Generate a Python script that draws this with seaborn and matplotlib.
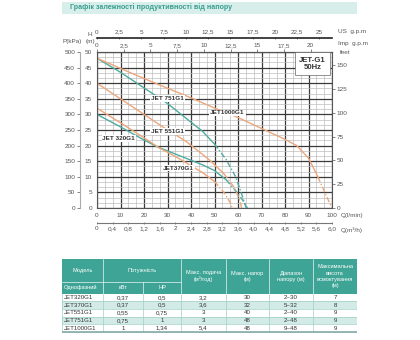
import matplotlib
matplotlib.use("Agg")
import matplotlib.pyplot as plt
import numpy as np
import seaborn as sns
from matplotlib.patches import Rectangle
from matplotlib.ticker import FixedLocator, FixedFormatter, MultipleLocator

sns.set_style("white")
plt.rcParams["font.family"] = ["Liberation Sans", "DejaVu Sans"]

W, H = 420, 340
TEAL = "#4eab9f"
ORANGE = "#eca67b"
HEAD_TEAL = "#3ea596"
ROW_TEAL = "#d3ebe7"
TXT = "#555555"

# pump curves: flow Q (l/min) vs head H (m); last index of the solid part
q_320 = [0, 10, 20, 26, 35, 45, 50, 55, 59, 62, 64]
h_320 = [30, 26, 21.8, 19.5, 16.8, 13.8, 12, 9, 5.5, 2.5, 0]
q_370 = [0, 10, 20, 26, 35, 45, 50, 54, 56.5, 57.5]
h_370 = [32, 27.3, 22.5, 19.5, 15.8, 11.3, 8.5, 5, 2, 0]
q_551 = [0, 10, 20, 28, 38, 48, 54, 58.5, 61, 61.5]
h_551 = [40, 35, 30, 26, 21.3, 15.3, 11, 6.5, 2, 0]
q_751 = [0, 10, 20, 30, 40, 45, 50, 55, 59, 62, 63.5]
h_751 = [48, 43.5, 38.5, 33.5, 27.5, 24.5, 20.5, 15.5, 10, 3.5, 0]
q_1000 = [0, 20, 40, 52, 60, 70, 80, 85, 90, 94, 97.5, 100]
h_1000 = [48, 41.5, 35.3, 31.4, 29, 25.5, 22, 20, 16, 10, 4, 0]

curves = [
    ("JET 320G1", q_320, h_320, 7, TEAL),
    ("JET370G1", q_370, h_370, 6, ORANGE),
    ("JET 551G1", q_551, h_551, 6, ORANGE),
    ("JET 751G1", q_751, h_751, 6, TEAL),
    ("JET1000G1", q_1000, h_1000, 9, ORANGE),
]
# label positions (Q, H)
label_pos = {
    "JET 320G1": (9.3, 22.2), "JET370G1": (34.7, 12.8), "JET 551G1": (30, 24.5),
    "JET 751G1": (30, 35), "JET1000G1": (55.5, 30.5),
}

usgpm_ticks = [0, 2.5, 5, 7.5, 10, 12.5, 15, 17.5, 20, 22.5, 25]
impgpm_ticks = [0, 2.5, 5, 7.5, 10, 12.5, 15, 17.5, 20]
m3h_ticks = [0, 0.4, 0.8, 1.2, 1.6, 2, 2.4, 2.8, 3.2, 3.6, 4.0, 4.4, 4.8, 5.2, 5.6, 6.0]
m3h_labels = ["0", "0,4", "0,8", "1,2", "1,6", "2", "2,4", "2,8", "3,2", "3,6",
              "4,0", "4,4", "4,8", "5,2", "5,6", "6,0"]
kpa_ticks = list(range(0, 501, 50))
feet_ticks = [0, 25, 50, 75, 100, 125, 150]

title = "Графік залежності продуктивності від напору"
col_heads = ["Модель", "Потужність", "Макс. подача\n(м³/год)", "Макс. напор\n(м)",
             "Діапазон\nнапору (м)", "Максимальна\nвисота\nвсмоктування\n(м)"]
sub_heads = ["Однофазний", "кВт", "HP"]
models = ["JET320G1", "JET370G1", "JET551G1", "JET751G1", "JET1000G1"]
kw = ["0,37", "0,37", "0,55", "0,75", "1"]
hp = ["0,5", "0,5", "0,75", "1", "1,34"]
max_flow = ["3,2", "3,6", "3", "3", "5,4"]
max_head = ["30", "32", "40", "48", "48"]
head_range = ["2~30", "5~32", "2~40", "2~48", "9~48"]
suction = ["7", "8", "9", "9", "9"]


def fx(x):
    return x / W


def fy(y):
    return 1 - y / H


def comma(v):
    return f"{v:g}".replace(".", ",")


fig = plt.figure(figsize=(W / 100, H / 100), dpi=100)

# title band
fig.patches.append(Rectangle((fx(62), fy(13.5)), 295 / W, 12 / H, transform=fig.transFigure,
                             fc="#d8eeea", ec="none"))
fig.text(fx(70), fy(7.5), title, color="#3a9e91", fontsize=5.1, fontweight="bold",
         va="center", ha="left")

ax = fig.add_axes([fx(97), fy(208), 235 / W, 156 / H])
ax.set_xlim(0, 100)
ax.set_ylim(0, 50)
ax.xaxis.set_major_locator(MultipleLocator(10))
ax.xaxis.set_minor_locator(MultipleLocator(10 / 3))
ax.yaxis.set_major_locator(MultipleLocator(5))
ax.yaxis.set_minor_locator(MultipleLocator(5 / 3))
ax.grid(which="major", color="#3a3a3a", lw=0.9)
ax.grid(which="minor", color="#bdbdbd", lw=0.5)
ax.set_axisbelow(True)
for s in ax.spines.values():
    s.set_color("#555")
    s.set_linewidth(0.8)
ax.tick_params(which="major", labelsize=4.6, colors=TXT, length=2, width=0.5, pad=1.5)
ax.tick_params(which="minor", length=0)

for name, q, h, k, col in curves:
    sns.lineplot(x=q[:k + 1], y=h[:k + 1], color=col, lw=1.0, ax=ax, sort=False)
    sns.lineplot(x=q[k:], y=h[k:], color=col, lw=1.0, ax=ax, sort=False,
                 linestyle=(0, (4, 1.5, 1, 1.5)))
    lx, ly = label_pos[name]
    ax.text(lx, ly, name, fontsize=4.6, fontweight="bold", color="#333", ha="center",
            va="center", bbox=dict(fc="white", ec="none", pad=0.6))

ax.text(91.7, 46.2, "JET-G1\n50Hz", fontsize=5.6, fontweight="bold", color="#333",
        ha="center", va="center", linespacing=1.1,
        bbox=dict(fc="white", ec="#666", lw=0.5, boxstyle="square,pad=0.55"))

# pressure axis (left)
pk = ax.secondary_yaxis(-17 / 235, functions=(lambda v: v * 10, lambda v: v / 10))
pk.yaxis.set_major_locator(FixedLocator(kpa_ticks))
pk.tick_params(labelsize=4.6, colors=TXT, length=2, width=0.5, pad=1.5)
pk.spines["left"].set_color("#aaa")

# feet axis (right)
ft = ax.secondary_yaxis("right", functions=(lambda v: v * 3.281, lambda v: v / 3.281))
ft.yaxis.set_major_locator(FixedLocator(feet_ticks))
ft.tick_params(labelsize=4.6, colors=TXT, length=2, width=0.5, pad=1.5)
ft.spines["right"].set_visible(False)

# Imp gpm (top)
ig = ax.secondary_xaxis("top", functions=(lambda v: v / 4.546, lambda v: v * 4.546))
ig.xaxis.set_major_locator(FixedLocator(impgpm_ticks))
ig.xaxis.set_major_formatter(FixedFormatter([comma(t) for t in impgpm_ticks]))
ig.tick_params(labelsize=4.6, colors=TXT, length=2, width=0.5, pad=1)

# US gpm (upper top)
ug = ax.secondary_xaxis(1 + 14 / 156, functions=(lambda v: v / 3.785, lambda v: v * 3.785))
ug.xaxis.set_major_locator(FixedLocator(usgpm_ticks))
ug.xaxis.set_major_formatter(FixedFormatter([comma(t) for t in usgpm_ticks]))
ug.tick_params(labelsize=4.6, colors=TXT, length=2, width=0.5, pad=1.5, direction="inout")
ug.spines["top"].set_color("#222")
ug.spines["top"].set_linewidth(1.2)

# m3/h (lower bottom)
mh = ax.secondary_xaxis(-15 / 156, functions=(lambda v: v * 0.06, lambda v: v / 0.06))
mh.xaxis.set_major_locator(FixedLocator(m3h_ticks))
mh.xaxis.set_major_formatter(FixedFormatter(m3h_labels))
mh.tick_params(labelsize=4.6, colors=TXT, length=2, width=0.5, pad=1.5, direction="inout")
mh.spines["bottom"].set_color("#777")

fs = 4.6
fig.text(fx(90), fy(35), "H", fontsize=fs, color=TXT, ha="center", va="center")
fig.text(fx(90), fy(42), "(m)", fontsize=fs, color=TXT, ha="center", va="center")
fig.text(fx(72), fy(42), "P(kPa)", fontsize=fs, color=TXT, ha="center", va="center")
fig.text(fx(338), fy(32), "US  g.p.m", fontsize=fs, color=TXT, ha="left", va="center")
fig.text(fx(338), fy(43), "Imp  g.p.m", fontsize=fs, color=TXT, ha="left", va="center")
fig.text(fx(345), fy(52), "feet", fontsize=fs, color=TXT, ha="center", va="center")
fig.text(fx(341), fy(216), "Q(l/min)", fontsize=fs, color=TXT, ha="left", va="center")
fig.text(fx(341), fy(230), "Q(m³/h)", fontsize=fs, color=TXT, ha="left", va="center")

# table
tax = fig.add_axes([fx(62), fy(340), 295 / W, 81 / H])
tax.set_xlim(62, 357)
tax.set_ylim(340, 259)
tax.axis("off")
xs = [62, 103, 143, 181, 226, 269, 313, 357]
y_top, y_mid, y_head = 259, 282, 293.5
row_h = 7.7
tfs = 4.1

tax.add_patch(Rectangle((xs[0], y_top), xs[-1] - xs[0], y_head - y_top, fc=HEAD_TEAL, ec="none"))
# header cells
spans = [(0, 1), (1, 3), (3, 4), (4, 5), (5, 6), (6, 7)]
for (a, b), txt in zip(spans, col_heads):
    yc = (y_top + y_mid) / 2 if a < 3 else (y_top + y_head) / 2
    tax.text((xs[a] + xs[b]) / 2, yc, txt, fontsize=tfs, color="white", ha="center",
             va="center", linespacing=1.3)
for i, txt in enumerate(sub_heads):
    tax.text((xs[i] + xs[i + 1]) / 2 if i else xs[0] + 1.5, (y_mid + y_head) / 2, txt,
             fontsize=tfs, color="white", ha="center" if i else "left", va="center")
lc = "#e9f5f3"
tax.plot([xs[0], xs[3]], [y_mid, y_mid], color=lc, lw=0.5)
for i, x in enumerate(xs[1:-1], 1):
    y0 = y_mid if i == 2 else y_top
    tax.plot([x, x], [y0, y_head], color=lc, lw=0.5)

cols = [models, kw, hp, max_flow, max_head, head_range, suction]
for r in range(len(models)):
    y0 = y_head + r * row_h
    fc = ROW_TEAL if r % 2 else "white"
    tax.add_patch(Rectangle((xs[0], y0), xs[-1] - xs[0], row_h, fc=fc, ec="none"))
    for c, vals in enumerate(cols):
        if c == 0:
            tax.text(xs[0] + 1.5, y0 + row_h / 2, vals[r], fontsize=tfs + 0.3, color="#333",
                     ha="left", va="center")
        else:
            tax.text((xs[c] + xs[c + 1]) / 2, y0 + row_h / 2, vals[r], fontsize=tfs + 0.3,
                     color="#333", ha="center", va="center")
    tax.plot([xs[0], xs[-1]], [y0 + row_h, y0 + row_h], color="#9fcfc7", lw=0.5)
y_end = y_head + len(models) * row_h
for x in xs:
    tax.plot([x, x], [y_head, y_end], color="#9fcfc7", lw=0.5)
tax.plot([xs[0], xs[-1]], [y_end, y_end], color="#8aa", lw=1.2)

fig.savefig("out.png", dpi=100)
